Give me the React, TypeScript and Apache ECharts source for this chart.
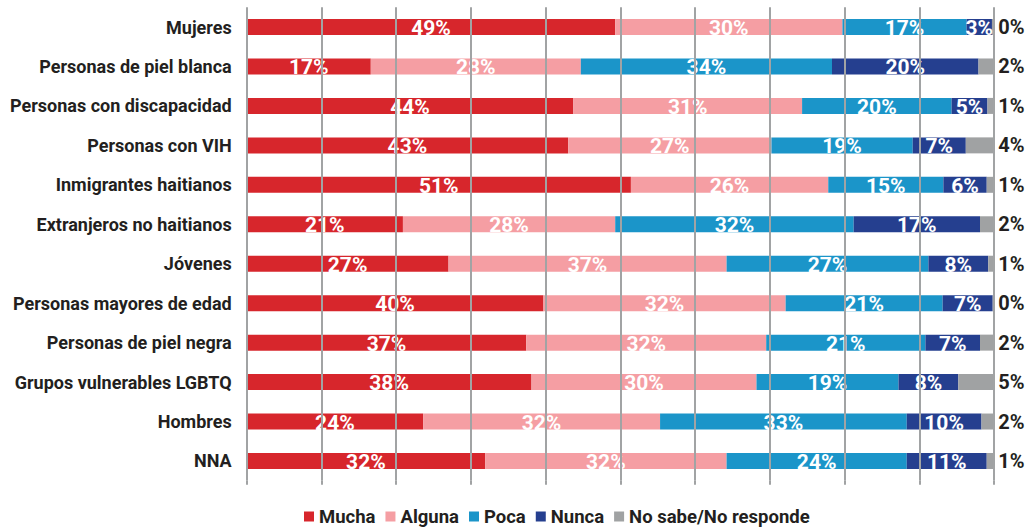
import React, { useEffect, useRef } from "react";
import * as echarts from "echarts";

const categories = [
  "Mujeres",
  "Personas de piel blanca",
  "Personas con discapacidad",
  "Personas con VIH",
  "Inmigrantes haitianos",
  "Extranjeros no haitianos",
  "Jóvenes",
  "Personas mayores de edad",
  "Personas de piel negra",
  "Grupos vulnerables LGBTQ",
  "Hombres",
  "NNA",
];

const seriesNames = ["Mucha", "Alguna", "Poca", "Nunca", "No sabe/No responde"];

const mucha = [49.3, 16.6, 43.7, 43.0, 51.4, 20.9, 27.0, 39.7, 37.4, 38.1, 23.6, 31.9];
const alguna = [30.4, 28.1, 30.6, 27.2, 26.4, 28.4, 37.2, 32.4, 32.1, 30.1, 31.7, 32.3];
const poca = [16.6, 33.6, 20.0, 18.9, 15.4, 31.9, 27.0, 21.0, 21.3, 19.0, 33.0, 24.1];
const nunca = [3.4, 19.6, 4.8, 7.1, 5.8, 16.9, 8.0, 6.7, 7.3, 8.0, 10.0, 10.7];
const noSabe = [0.3, 2.1, 0.9, 3.8, 1.0, 1.9, 0.8, 0.2, 1.9, 4.8, 1.7, 1.0];

const colors = ["#d7262c", "#f59ea3", "#1b95c9", "#253f8f", "#a0a2a3"];

const FONT = "Roboto";
const pct = (p: any) => Math.round(p.value) + "%";

export default function App() {
  const ref = useRef<HTMLDivElement>(null);
  useEffect(() => {
    if (!ref.current) return;
    const chart = echarts.init(ref.current, null, { renderer: "svg" });
    const values = [mucha, alguna, poca, nunca, noSabe];
    const series: any[] = values.map((data, i) => {
      const last = i === values.length - 1;
      return {
        name: seriesNames[i],
        type: "bar",
        stack: "total",
        barWidth: 16,
        data,
        itemStyle: { color: colors[i] },
        label: last
          ? {
              show: true,
              position: "right",
              distance: 4,
              color: "#231f20",
              fontFamily: FONT,
              fontWeight: "bold",
              fontSize: 20,
              formatter: pct,
            }
          : {
              show: true,
              position: "inside",
              offset: [0, 1],
              color: "#ffffff",
              fontFamily: FONT,
              fontWeight: "bold",
              fontSize: 21,
              formatter: pct,
            },
      };
    });
    chart.setOption({
      animation: false,
      textStyle: { fontFamily: FONT },
      color: colors,
      grid: { left: 246.7, width: 747.5, top: 7.3, height: 473.4, containLabel: false },
      legend: {
        data: seriesNames,
        left: 299,
        top: 502,
        icon: "rect",
        itemWidth: 10,
        itemHeight: 10,
        itemGap: 10,
        textStyle: { fontFamily: FONT, fontWeight: "bold", fontSize: 18.5, color: "#231f20" },
      },
      xAxis: {
        type: "value",
        min: 0,
        max: 100,
        interval: 10,
        z: 3,
        axisLabel: { show: false },
        axisLine: { show: false },
        axisTick: { show: true, length: 4, lineStyle: { color: "#a1a3a4", width: 2 } },
        splitLine: { show: true, lineStyle: { color: "#a1a3a4", width: 2 } },
      },
      yAxis: {
        type: "category",
        inverse: true,
        data: categories,
        axisLine: { show: false },
        axisTick: { show: false },
        axisLabel: {
          color: "#231f20",
          fontFamily: FONT,
          fontWeight: "bold",
          fontSize: 18,
          margin: 15,
        },
      },
      series,
    });
    return () => chart.dispose();
  }, []);
  return (
    <div
      ref={ref}
      style={{ position: "absolute", left: 0, top: 0, width: 1031, height: 527 }}
    />
  );
}
